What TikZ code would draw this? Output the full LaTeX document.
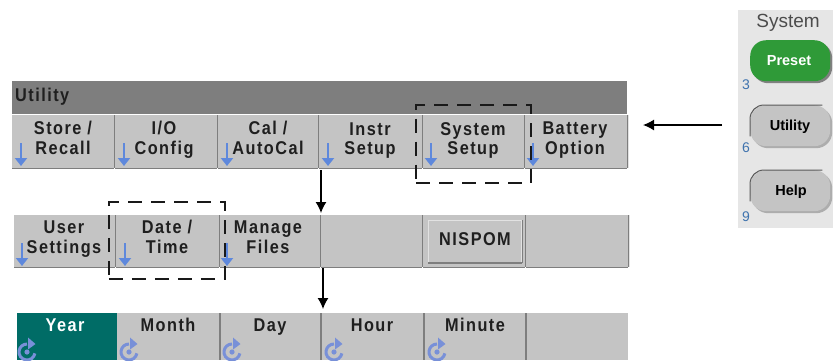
\documentclass[tikz,border=0pt]{standalone}
\usepackage{fontspec}
\setmainfont{Liberation Sans}
\newfontfamily\keyfont[LetterSpace=8,FakeStretch=0.88]{Liberation Sans}
\usetikzlibrary{arrows.meta}
\definecolor{keygray}{HTML}{C4C4C4}
\definecolor{edgegray}{HTML}{7E7E7E}
\definecolor{edgelight}{HTML}{E2E2E2}
\definecolor{softblue}{HTML}{5E88DC}
\definecolor{iconblue}{HTML}{7890D8}
\definecolor{tealkey}{HTML}{006C66}
\definecolor{presetgreen}{HTML}{2F9A38}
\definecolor{panelgray}{HTML}{E6E6E6}
\definecolor{numblue}{HTML}{3F73AE}
\tikzset{
  x=1pt,y=-1pt,
  keybox/.style={fill=keygray,draw=none,inner sep=0pt,anchor=north west},
  keytext/.style={font=\keyfont\bfseries\fontsize{18.5}{19}\selectfont,text=black!88,align=center,inner sep=0pt},
  flow/.style={line width=1.3pt,-{Latex[length=11pt,width=11pt]}},
  dashbox/.style={draw=black!90,dash pattern=on 14pt off 9pt,fill=none,inner sep=0pt,anchor=north west},
  softdown/.style={draw=softblue,line width=2.4pt,-{Triangle[length=8pt,width=12pt]}},
  hw/.style={rounded corners=16pt,inner sep=0pt,anchor=north west,minimum width=80pt,minimum height=41pt},
  hwedge/.style={draw=black!65,line width=1pt,rounded corners=14pt},
  hwtext/.style={font=\bfseries\fontsize{14.5}{16}\selectfont,inner sep=0pt},
  hwnum/.style={font=\fontsize{14}{16}\selectfont,text=numblue,inner sep=0pt},
}
\newcommand{\pairlines}[2]{\strut#1\\\strut#2}
% name, x0, x1, y0, y1
\newcommand{\softkey}[5]{%
  \node[keybox,minimum width=#3-#2,minimum height=#5-#4] (#1) at (#2,#4) {};
  \draw[edgegray,line width=1.4pt] (#1.south west) -- (#1.south east);
  \draw[edgegray,line width=1.2pt] (#1.north east) -- (#1.south east);
  \draw[edgelight,line width=.8pt] ([xshift=1.2pt]#1.north east) -- ([xshift=1.2pt]#1.south east);
}
\newcommand{\downmark}[3]{\coordinate (#1) at (#2,#3); \draw[softdown] (#1) -- ++(0,23);}
% circular-arrow icon: name, x, y of its centre
\newcommand{\knob}[3]{%
  \coordinate (#1) at (#2,#3);
  \begin{scope}[shift={(#1)},y=1pt]
    \draw[iconblue,line width=3pt] (-10:8) arc[start angle=-10,end angle=-270,radius=8pt];
    \fill[iconblue] (1,14.5) -- (1,2.5) -- (8.5,8) -- cycle;
    \fill[iconblue] (0,0) circle (2.6pt);
  \end{scope}
}
\begin{document}
\begin{tikzpicture}
\useasboundingbox[fill=white] (0,0) rectangle (833,360);
% title bar
\node[inner sep=0pt,anchor=north west,fill=edgegray,minimum width=615,minimum height=33] (title) at (12,81) {};
\node[keytext,anchor=west] (titletext) at (15,98) {\strut Utility};
% row 1
\softkey{ra}{12}{114}{115}{168}
\softkey{rb}{115}{217}{115}{168}
\softkey{rc}{218}{318}{115}{168}
\softkey{rd}{319}{422}{115}{168}
\softkey{re}{423}{524}{115}{168}
\softkey{rf}{525}{627}{115}{168}
\node[keytext] (rat) at (63,141) {\pairlines{Store /}{Recall}};
\node[keytext] (rbt) at (164,141) {\pairlines{I/O}{Config}};
\node[keytext] (rct) at (268,141) {\pairlines{Cal /}{AutoCal}};
\node[keytext] (rdt) at (370,141) {\pairlines{Instr}{Setup}};
\node[keytext] (ret) at (473,141) {\pairlines{System}{Setup}};
\node[keytext] (rft) at (575,141) {\pairlines{Battery}{Option}};
\downmark{ma}{21}{143}\downmark{mb}{124}{143}\downmark{mc}{227}{143}
\downmark{md}{328}{143}\downmark{me}{431}{143}\downmark{mf}{533}{143}
% row 2
\softkey{sa}{14}{115}{215}{267}
\softkey{sb}{116}{219}{215}{267}
\softkey{sc}{220}{320}{215}{267}
\softkey{sd}{321}{422}{215}{267}
\softkey{se}{423}{525}{215}{267}
\softkey{sf}{526}{628}{215}{267}
\node[keytext] (sat) at (64,240) {\pairlines{User}{Settings}};
\node[keytext] (sbt) at (167,240) {\pairlines{Date /}{Time}};
\node[keytext] (sct) at (268,240) {\pairlines{Manage}{Files}};
\node[draw=edgelight,fill=keygray,line width=1pt,inner sep=0pt,anchor=north west,minimum width=93,minimum height=42] (nisbtn) at (428,220) {};
\draw[edgegray,line width=1.5pt] (nisbtn.south west) -- (nisbtn.south east);
\draw[edgegray,line width=1pt] (nisbtn.south east) -- (nisbtn.north east);
\node[keytext] (nis) at (475,242) {\strut NISPOM};
\downmark{na}{22}{243}\downmark{nb}{125}{243}\downmark{nc}{227}{243}
% row 3
\node[inner sep=0pt,anchor=north west,fill=tealkey,minimum width=100,minimum height=47] (ta) at (17,313) {};
\node[keybox,minimum width=103,minimum height=47] (tb) at (117,313) {};
\node[keybox,minimum width=101,minimum height=47] (tc) at (220,313) {};
\node[keybox,minimum width=103,minimum height=47] (td) at (321,313) {};
\node[keybox,minimum width=102,minimum height=47] (te) at (424,313) {};
\node[keybox,minimum width=102,minimum height=47] (tf) at (526,313) {};
\foreach \k in {tc,td,te,tf} \draw[edgegray,line width=1.3pt] (\k.north west) -- (\k.south west);
\node[keytext,text=white] (tat) at (65,328) {\strut Year};
\node[keytext] (tbt) at (168,328) {\strut Month};
\node[keytext] (tct) at (270,328) {\strut Day};
\node[keytext] (tdt) at (372,328) {\strut Hour};
\node[keytext] (tet) at (475,328) {\strut Minute};
\knob{ka}{27}{352}\knob{kb}{129}{352}\knob{kc}{232}{352}\knob{kd}{334}{352}\knob{ke}{437}{352}
% dashed highlights
\node[dashbox,line width=2pt,minimum width=115,minimum height=78] (dashsys) at (415,103.5) {};
\node[dashbox,line width=1.6pt,minimum width=116,minimum height=77] (dashdate) at (108,201) {};
% connectors
\coordinate (c1) at (321,170); \coordinate (c2) at (321,213);
\coordinate (c3) at (323,268); \coordinate (c4) at (323,309);
\coordinate (c5) at (722,125); \coordinate (c6) at (643,125);
\draw[flow] (c1) -- (c2);
\draw[flow] (c3) -- (c4);
\draw[flow] (c5) -- (c6);
% front panel
\node[fill=panelgray,inner sep=0pt,anchor=north west,minimum width=95,minimum height=218] (panel) at (738,10) {};
\node[inner sep=0pt,text=black!70,font=\fontsize{19}{22}\selectfont] (systxt) at (788,23) {System};
\node[hw,fill=black!50] (pshadow) at (752,42) {};
\node[hw,fill=presetgreen] (preset) at (750,40) {};
\node[hwtext,text=white] (presett) at (789,61) {Preset};
\node[hw,fill=black!32] (ushadow) at (752,107) {};
\node[hw,fill=keygray] (utility) at (750,105) {};
\draw[hwedge] ([yshift=10pt]utility.south west) -- (utility.north west) -- ([xshift=-8pt]utility.north east);
\node[hwtext,text=black] (utilityt) at (790,127) {Utility};
\node[hw,fill=black!32] (hshadow) at (752,172) {};
\node[hw,fill=keygray] (help) at (750,170) {};
\draw[hwedge] ([yshift=10pt]help.south west) -- (help.north west) -- ([xshift=-8pt]help.north east);
\node[hwtext,text=black] (helpt) at (791,192) {Help};
\node[hwnum] (n3) at (746,85) {3};
\node[hwnum] (n6) at (746,148) {6};
\node[hwnum] (n9) at (746,217) {9};
\end{tikzpicture}
\end{document}
